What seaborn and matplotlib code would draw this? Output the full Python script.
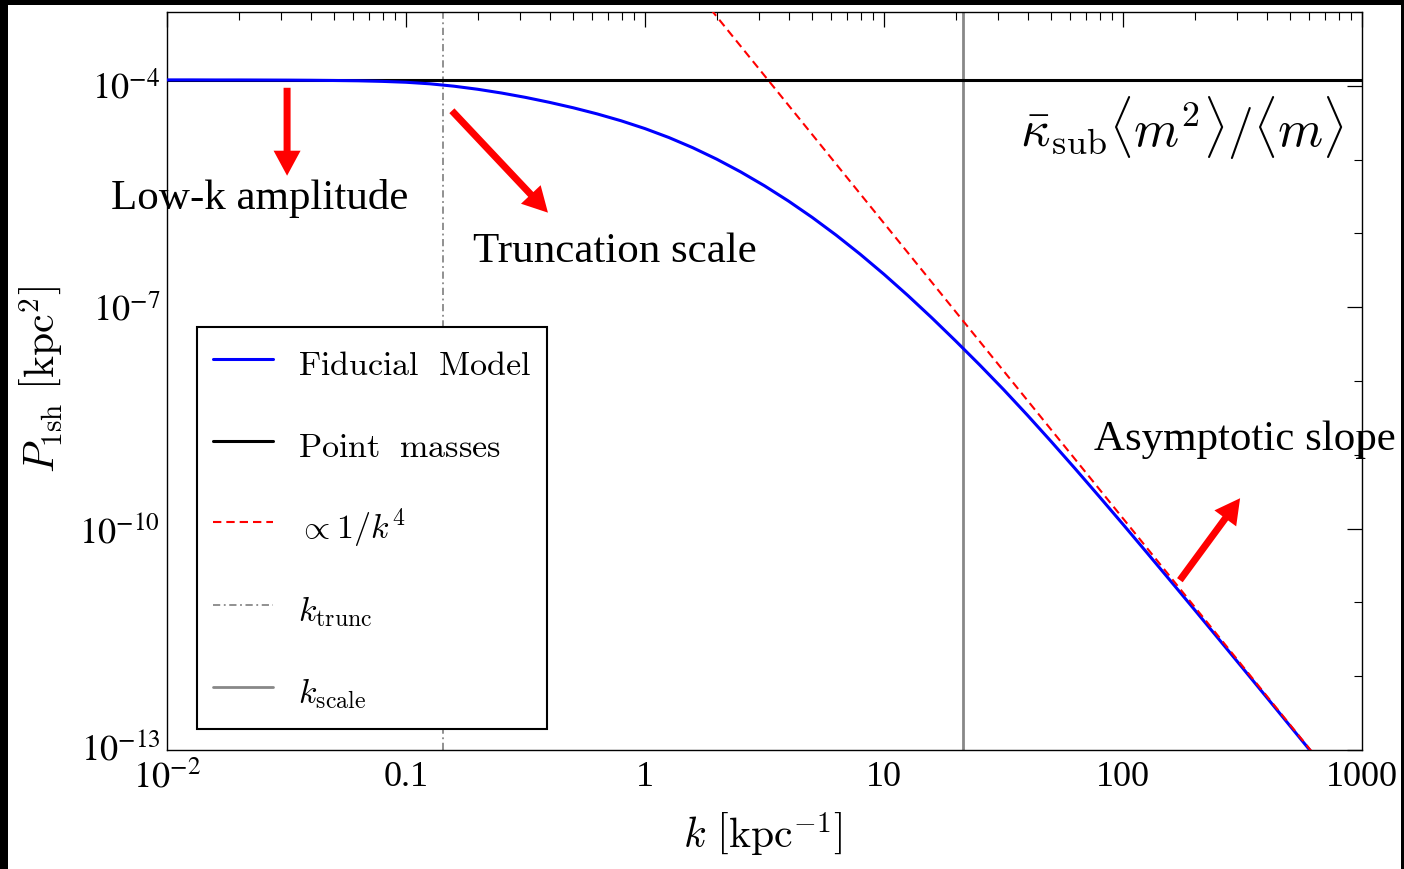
import numpy as np
import pandas as pd
import matplotlib
matplotlib.use("Agg")
import matplotlib.pyplot as plt
import seaborn as sns
from matplotlib.patches import Rectangle
from matplotlib.lines import Line2D
from matplotlib.font_manager import FontProperties
from matplotlib.transforms import ScaledTranslation

# ---------------- data ----------------
log_k_fid = [-2.0, -1.9, -1.8, -1.7, -1.6, -1.5, -1.4, -1.3, -1.2, -1.1,
             -1.0, -0.9, -0.8, -0.7, -0.6, -0.5, -0.4, -0.3, -0.2, -0.1,
             0.0, 0.1, 0.2, 0.3, 0.4, 0.5, 0.6, 0.7, 0.8, 0.9,
             1.0, 1.1, 1.2, 1.3, 1.4, 1.5, 1.6, 1.7, 1.8, 1.9,
             2.0, 2.1, 2.2, 2.3, 2.4, 2.5, 2.6, 2.7, 2.8, 2.9]
log_P_fid = [-3.920, -3.920, -3.921, -3.921, -3.922, -3.923, -3.925, -3.928, -3.932, -3.940,
             -3.952, -3.973, -4.005, -4.047, -4.098, -4.157, -4.224, -4.298, -4.381, -4.474,
             -4.580, -4.701, -4.839, -4.994, -5.166, -5.355, -5.561, -5.784, -6.024, -6.281,
             -6.554, -6.842, -7.144, -7.458, -7.781, -8.115, -8.463, -8.822, -9.189, -9.563,
             -9.942, -10.326, -10.713, -11.102, -11.494, -11.887, -12.282, -12.678, -13.075, -13.472]

k_point = [0.01, 1000.0]
P_point = [1.2e-4, 1.2e-4]

k_asym = [1.0, 1000.0]
P_asym = [1.374e-2, 1.374e-14]

k_trunc = 0.143
k_scale = 21.5

x_tick_vals = [1e-2, 0.1, 1, 10, 100, 1000]
x_tick_labels = [r"$10^{-2}$", "0.1", "1", "10", "100", "1000"]
y_tick_vals = [1e-13, 1e-10, 1e-7, 1e-4]
y_tick_labels = [r"$10^{-13}$", r"$10^{-10}$", r"$10^{-7}$", r"$10^{-4}$"]

legend_labels = [r"$\mathrm{Fiducial\ \ Model}$", r"$\mathrm{Point\ \ masses}$",
                 r"$\propto 1/k^4$", r"$k_{\mathrm{trunc}}$", r"$k_{\mathrm{scale}}$"]

df_fid = pd.DataFrame({"k": 10.0 ** np.array(log_k_fid), "P": 10.0 ** np.array(log_P_fid)})
df_pt = pd.DataFrame({"k": k_point, "P": P_point})
df_as = pd.DataFrame({"k": k_asym, "P": P_asym})

# ---------------- style ----------------
sns.set_style("white")
plt.rcParams["font.family"] = ["Liberation Serif", "DejaVu Serif"]
plt.rcParams["mathtext.fontset"] = "stix"
plt.rcParams["text.color"] = "black"
plt.rcParams["axes.labelcolor"] = "black"
plt.rcParams["xtick.color"] = "black"
plt.rcParams["ytick.color"] = "black"

W, H = 1404, 869
fig = plt.figure(figsize=(W / 100, H / 100), dpi=100)
ax_l, ax_r, ax_t, ax_b = 167, 1362, 12, 750
ax = fig.add_axes([ax_l / W, 1 - ax_b / H, (ax_r - ax_l) / W, (ax_b - ax_t) / H])
ax.set_xscale("log")
ax.set_yscale("log")

blue_c, red_c, gray_c = "#0000ff", "#ff0000", "#888888"
red_ls = (0, (4, 2.4))
trunc_ls = (0, (4, 2, 1, 2))

sns.lineplot(data=df_pt, x="k", y="P", ax=ax, color="black", lw=2.2, zorder=3)
sns.lineplot(data=df_fid, x="k", y="P", ax=ax, color=blue_c, lw=2.2, zorder=4)
sns.lineplot(data=df_as, x="k", y="P", ax=ax, color=red_c, lw=1.5, zorder=5,
             linestyle=red_ls)
ax.axvline(k_trunc, color=gray_c, lw=1.3, linestyle=trunc_ls, zorder=2)
ax.axvline(k_scale, color=gray_c, lw=2.0, zorder=2)

ax.set_xlim(1e-2, 1e3)
ax.set_ylim(1e-13, 1e-3)

ax.set_xticks(x_tick_vals)
ax.set_xticklabels(x_tick_labels)
ax.set_xticks([m * 10.0 ** e for e in range(-2, 3) for m in range(2, 10)], minor=True)
ax.set_xticklabels([], minor=True)
ax.set_yticks(y_tick_vals)
ax.set_yticklabels(y_tick_labels)
ax.set_yticks([10.0 ** e for e in range(-13, -2)], minor=True)
ax.set_yticklabels([], minor=True)

ax.tick_params(which="both", direction="in", top=True, right=True, colors="black")
ax.tick_params(which="major", length=11, width=0.9, labelsize=26)
ax.tick_params(which="minor", length=6, width=0.8)
ax.tick_params(axis="x", which="major", pad=8)
ax.tick_params(axis="y", which="major", pad=5)
for sp in ax.spines.values():
    sp.set_color("black")
    sp.set_linewidth(1.0)

# nudge the lowest y label up a little so it clears the 10^-2 label
lowest = ax.yaxis.get_major_ticks()[0].label1
lowest.set_transform(lowest.get_transform() + ScaledTranslation(0, 4 / 100, fig.dpi_scale_trans))

cm30 = FontProperties(family="serif", size=30, math_fontfamily="cm")
ax.set_xlabel(r"$k\ \left[\mathrm{kpc}^{-1}\right]$", fontproperties=cm30, color="black")
ax.set_ylabel(r"$P_{\mathrm{1sh}}\ \left[\mathrm{kpc}^{2}\right]$", fontproperties=cm30, color="black")
ax.xaxis.set_label_coords(0.4987, -0.115)
ax.xaxis.label.set_va("center")
ax.yaxis.set_label_coords(-0.1046, 0.5014)
ax.yaxis.label.set_va("center")

# ---------------- legend ----------------
handles = [
    Line2D([], [], color=blue_c, lw=2.2),
    Line2D([], [], color="black", lw=2.2),
    Line2D([], [], color=red_c, lw=1.5, linestyle=red_ls),
    Line2D([], [], color=gray_c, lw=1.3, linestyle=trunc_ls),
    Line2D([], [], color=gray_c, lw=2.0),
]
leg = ax.legend(handles, legend_labels, loc="upper left",
                bbox_to_anchor=((197 - ax_l) / (ax_r - ax_l), 1 - (327 - ax_t) / (ax_b - ax_t)),
                borderaxespad=0, frameon=True, fancybox=False, framealpha=1,
                prop=FontProperties(family="serif", size=24.5, math_fontfamily="cm"),
                handlelength=1.75, handleheight=1.5, handletextpad=0.75, labelspacing=1.18,
                borderpad=0.47)
leg.get_frame().set_edgecolor("black")
leg.get_frame().set_linewidth(1.5)
leg.set_zorder(10)
for t in leg.get_texts():
    t.set_color("black")

# ---------------- annotations ----------------
arrow_kw = dict(arrowstyle="simple,head_length=1.0,head_width=1.08,tail_width=0.28",
                color=red_c, lw=0, shrinkA=0, shrinkB=0, mutation_scale=18)
ax.annotate("", xy=(0.0318, 6.05e-6), xytext=(0.0318, 9.4e-5), arrowprops=arrow_kw, zorder=6)
ax.annotate("", xy=(0.3926, 1.91e-6), xytext=(0.1556, 4.59e-5), arrowprops=arrow_kw, zorder=6)
ax.annotate("", xy=(309, 2.58e-10), xytext=(173, 2.0e-11), arrowprops=arrow_kw, zorder=6)

fig.text(111 / W, 1 - 198 / H, "Low-k amplitude", fontsize=31, ha="left", va="center", color="black")
fig.text(473 / W, 1 - 252 / H, "Truncation scale", fontsize=31, ha="left", va="center", color="black")
fig.text(1094 / W, 1 - 440 / H, "Asymptotic slope", fontsize=31, ha="left", va="center", color="black")
fig.text(1020 / W, 1 - 128 / H,
         r"$\bar{\kappa}_{\mathrm{sub}}\langle m^2\rangle/\langle m\rangle$",
         fontproperties=FontProperties(family="serif", size=37, math_fontfamily="cm"),
         ha="left", va="center", color="black")

# ---------------- screenshot border ----------------
fig.add_artist(Rectangle((0, 1 - 5 / H), 1, 5 / H, transform=fig.transFigure,
                         color="black", lw=0, zorder=20))
fig.add_artist(Rectangle((0, 0), 8 / W, 1, transform=fig.transFigure,
                         color="black", lw=0, zorder=20))
fig.add_artist(Rectangle((1 - 3 / W, 0), 3 / W, 1, transform=fig.transFigure,
                         color="black", lw=0, zorder=20))

fig.savefig("out.png", dpi=100, facecolor="white")
